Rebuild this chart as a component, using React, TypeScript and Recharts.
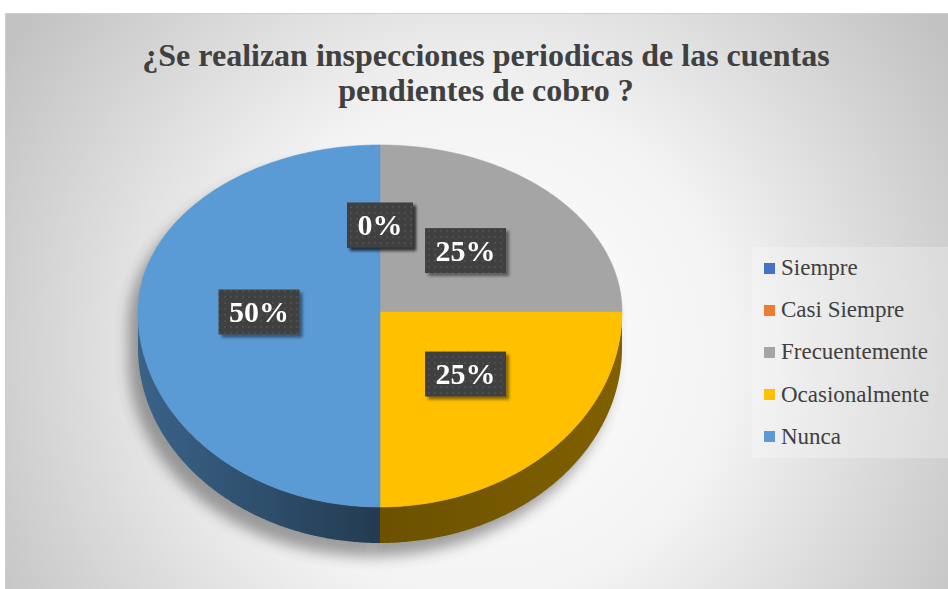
import { PieChart, Pie, Legend } from "recharts";

const categories = ["Siempre", "Casi Siempre", "Frecuentemente", "Ocasionalmente", "Nunca"];
const values = [0, 0, 25, 25, 50];
const colors = ["#4472c4", "#ed7d31", "#a5a5a5", "#ffc000", "#5b9bd5"];
const labelTexts = ["0%", "0%", "25%", "25%", "50%"];
const titleLines = [
  "¿Se realizan inspecciones periodicas de las cuentas",
  "pendientes de cobro ?",
];

const data = categories.map((name, i) => ({ name, value: values[i] }));

// 3D look: the top face is squashed vertically, a bit more at the front
const RY_TOP = 167 / 242;
const RY_BOT = 195 / 242;
const DEPTH = 36;
const SERIF = '"Liberation Serif", "Times New Roman", serif';

const rad = (d: number) => (d * Math.PI) / 180;

function ellipsePoint(cx: number, cy: number, r: number, deg: number, dy = 0) {
  const s = Math.sin(rad(deg));
  const ry = r * (s >= 0 ? RY_TOP : RY_BOT);
  return [cx + r * Math.cos(rad(deg)), cy - ry * s + dy];
}

function sampleAngles(start: number, end: number) {
  const steps = Math.max(2, Math.ceil(Math.abs(end - start) * 2));
  const out: number[] = [];
  for (let k = 0; k <= steps; k++) out.push(start + ((end - start) * k) / steps);
  return out;
}

// runs of angles that lie on the front half (where the side wall shows)
function frontRuns(start: number, end: number) {
  const runs: number[][] = [];
  let cur: number[] = [];
  for (const a of sampleAngles(start, end)) {
    if (Math.sin(rad(a)) <= 1e-9) cur.push(a);
    else if (cur.length) {
      runs.push(cur);
      cur = [];
    }
  }
  if (cur.length > 1) runs.push(cur);
  return runs.filter((r) => r.length > 1);
}

function shade(hex: string, f: number) {
  const n = parseInt(hex.slice(1), 16);
  const ch = [(n >> 16) & 255, (n >> 8) & 255, n & 255].map((v) => Math.round(v * f));
  return "#" + ch.map((v) => v.toString(16).padStart(2, "0")).join("");
}

const toPath = (pts: number[][]) => "M" + pts.map((p) => `${p[0].toFixed(2)},${p[1].toFixed(2)}`).join(" L") + " Z";

function sectorPaths(p: any) {
  const { cx, cy, outerRadius, startAngle, endAngle } = p;
  const top = sampleAngles(startAngle, endAngle).map((a) => ellipsePoint(cx, cy, outerRadius, a));
  const walls = frontRuns(startAngle, endAngle).map((run) => {
    const upper = run.map((a) => ellipsePoint(cx, cy, outerRadius, a));
    const lower = run
      .slice()
      .reverse()
      .map((a) => ellipsePoint(cx, cy, outerRadius, a, DEPTH));
    return toPath([...upper, ...lower]);
  });
  return { top: toPath([[cx, cy], ...top]), walls };
}

const renderShadow = (p: any) => {
  if (Math.abs(p.endAngle - p.startAngle) < 0.01) return <g />;
  const { top, walls } = sectorPaths(p);
  return (
    <g filter="url(#softBlur)" transform="translate(-9 13)" opacity={0.45}>
      <path d={top} fill="#333" stroke="#333" strokeWidth={1} />
      {walls.map((d, k) => (
        <path key={k} d={d} fill="#333" stroke="#333" strokeWidth={1} />
      ))}
    </g>
  );
};

const renderSolid = (p: any) => {
  const { startAngle, endAngle, index } = p;
  if (Math.abs(endAngle - startAngle) < 0.01) return <g />;
  const { top, walls } = sectorPaths(p);
  const side = Math.cos(rad((startAngle + endAngle) / 2)) < 0 ? "L" : "R";
  return (
    <g>
      {walls.map((d, k) => (
        <path key={k} d={d} fill={`url(#wall${side}${index})`} />
      ))}
      <path d={top} fill={colors[index]} stroke={colors[index]} strokeWidth={0.6} />
    </g>
  );
};

const renderBadge = (p: any) => {
  const { cx, cy, outerRadius, startAngle, endAngle, index } = p;
  const mid = (startAngle + endAngle) / 2;
  const s = Math.sin(rad(mid));
  const x = cx + 0.5 * outerRadius * Math.cos(rad(mid));
  const y = cy - outerRadius * (s >= 0 ? 0.52 * RY_TOP : 0.45 * RY_BOT) * s;
  const t = labelTexts[index];
  const w = t.length * 15 + 15 + 21;
  const h = 45;
  return (
    <g filter="url(#badgeShadow)">
      <rect x={x - w / 2} y={y - h / 2} width={w} height={h} fill="url(#dots)" />
      <text x={x} y={y + 10} textAnchor="middle" fill="#fff" fontFamily={SERIF} fontWeight="bold" fontSize={30}>
        {t}
      </text>
    </g>
  );
};

const LegendBox = () => (
  <div
    style={{
      width: 196,
      height: 211,
      boxSizing: "border-box",
      paddingLeft: 12,
      background: "rgba(255,255,255,0.25)",
      display: "flex",
      flexDirection: "column",
    }}
  >
    {categories.map((c, i) => (
      <div key={c} style={{ height: 42.2, display: "flex", alignItems: "center" }}>
        <span style={{ width: 11, height: 11, background: colors[i], marginRight: 6, flex: "none" }} />
        <span style={{ fontFamily: SERIF, fontSize: 23, color: "#404040", whiteSpace: "nowrap" }}>{c}</span>
      </div>
    ))}
  </div>
);

const pieCommon = {
  data,
  dataKey: "value",
  nameKey: "name",
  cx: 380,
  cy: 312,
  outerRadius: 242,
  startAngle: 90,
  endAngle: -270,
  fill: "none",
  stroke: "none",
  labelLine: false,
  isAnimationActive: false,
};

const noMargin = { top: 0, right: 0, bottom: 0, left: 0 };

export default function App() {
  return (
    <div style={{ position: "relative", width: 948, height: 589, overflow: "hidden" }}>
      <style>{`body{margin:0}`}</style>
      <svg width={948} height={589} style={{ position: "absolute", left: 0, top: 0 }}>
        <defs>
          <radialGradient id="bg" gradientUnits="userSpaceOnUse" cx={480} cy={350} r={560}>
            <stop offset="0" stopColor="#ffffff" />
            <stop offset="0.45" stopColor="#f3f3f3" />
            <stop offset="1" stopColor="#c2c2c2" />
          </radialGradient>
          {colors.map((c, i) => (
            <linearGradient key={"L" + i} id={`wallL${i}`} x1="0" y1="0" x2="1" y2="0">
              <stop offset="0" stopColor={shade(c, 0.64)} />
              <stop offset="1" stopColor={shade(c, 0.38)} />
            </linearGradient>
          ))}
          {colors.map((c, i) => (
            <linearGradient key={"R" + i} id={`wallR${i}`} x1="0" y1="0" x2="1" y2="0">
              <stop offset="0" stopColor={shade(c, 0.42)} />
              <stop offset="1" stopColor={shade(c, 0.5)} />
            </linearGradient>
          ))}
          <pattern id="dots" width={6} height={6} patternUnits="userSpaceOnUse">
            <rect width={6} height={6} fill="#404040" />
            <circle cx={3} cy={3} r={0.8} fill="#5e5e5e" />
          </pattern>
          <filter id="softBlur" x="-30%" y="-30%" width="160%" height="160%">
            <feGaussianBlur stdDeviation={7} />
          </filter>
          <filter id="badgeShadow" x="-20%" y="-20%" width="150%" height="160%">
            <feDropShadow dx={3} dy={3} stdDeviation={1.5} floodColor="#000" floodOpacity={0.45} />
          </filter>
        </defs>
        <rect x={5.5} y={13.5} width={950} height={590} fill="url(#bg)" stroke="#d0d0d0" />
        {titleLines.map((line, i) => (
          <text
            key={i}
            x={486}
            y={66 + i * 35}
            textAnchor="middle"
            fontFamily={SERIF}
            fontWeight="bold"
            fontSize={32}
            fill="#404040"
          >
            {line}
          </text>
        ))}
      </svg>

      {/* shadow under the pie, as its own chart underneath */}
      <div style={{ position: "absolute", left: 0, top: 0 }}>
        <PieChart width={948} height={589} margin={noMargin}>
          <Pie {...pieCommon} label={renderShadow} legendType="none" />
        </PieChart>
      </div>

      <div style={{ position: "absolute", left: 0, top: 0 }}>
        <PieChart width={948} height={589} margin={noMargin}>
          <Pie {...pieCommon} label={renderSolid} legendType="none" />
          <Pie {...pieCommon} label={renderBadge} legendType="square" />
          <Legend
            layout="vertical"
            align="right"
            verticalAlign="middle"
            content={() => <LegendBox />}
            wrapperStyle={{ left: 752, top: 247, width: 196, height: 211 }}
          />
        </PieChart>
      </div>
    </div>
  );
}
